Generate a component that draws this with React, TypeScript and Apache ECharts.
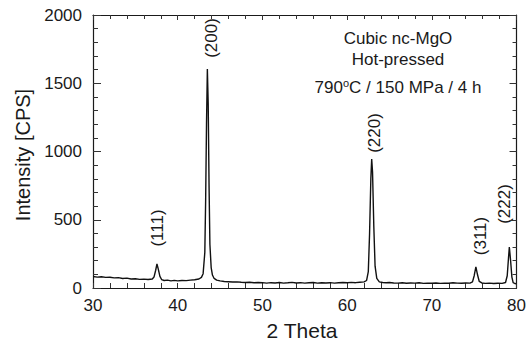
import React, { useEffect, useRef } from "react";
import * as echarts from "echarts";

const twoTheta: number[] = [
  30.0, 30.5, 31.0, 31.5, 32.0, 32.5, 33.0, 33.5, 34.0, 34.5, 35.0, 35.5, 36.0, 36.5,
  37.0, 37.2, 37.4, 37.55, 37.7, 37.9, 38.1, 38.4, 38.8, 39.2, 39.6, 40.0, 40.5, 41.0,
  41.5, 42.0, 42.5, 42.8, 43.0, 43.2, 43.3, 43.4, 43.5, 43.6, 43.7, 43.8, 43.95, 44.1,
  44.3, 44.6, 45.0, 45.5, 46.0, 46.5, 47.0, 47.5, 48.0, 48.5, 49.0, 49.5, 50.0, 50.5,
  51.0, 51.5, 52.0, 52.5, 53.0, 53.5, 54.0, 54.5, 55.0, 55.5, 56.0, 56.5, 57.0, 57.5,
  58.0, 58.5, 59.0, 59.5, 60.0, 60.5, 61.0, 61.5, 62.0, 62.3, 62.5, 62.65, 62.8, 62.9,
  63.0, 63.15, 63.3, 63.5, 63.8, 64.2, 64.6, 65.0, 65.5, 66.0, 66.5, 67.0, 67.5, 68.0,
  68.5, 69.0, 69.5, 70.0, 70.5, 71.0, 71.5, 72.0, 72.5, 73.0, 73.5, 74.0, 74.5, 74.8,
  75.0, 75.2, 75.4, 75.6, 75.9, 76.3, 76.8, 77.3, 77.8, 78.3, 78.7, 78.9, 79.05, 79.15,
  79.3, 79.45, 79.6, 79.8, 80.0,
];
const intensity: number[] = [
  84, 80, 82, 78, 79, 74, 76, 70, 72, 66, 68, 63, 65, 62,
  66, 80, 130, 176, 140, 85, 62, 55, 58, 52, 56, 52, 55, 54,
  58, 60, 66, 78, 105, 260, 650, 1200, 1604, 1350, 750, 320, 150, 95,
  70, 58, 52, 48, 46, 44, 45, 42, 40, 42, 38, 40, 39, 36,
  39, 37, 40, 36, 38, 41, 37, 39, 36, 38, 40, 36, 38, 37,
  39, 36, 38, 40, 38, 41, 39, 42, 45, 55, 120, 400, 800, 945,
  850, 450, 160, 70, 45, 40, 38, 40, 37, 36, 38, 35, 37, 36,
  38, 34, 36, 35, 37, 34, 36, 35, 38, 36, 35, 37, 36, 45,
  90, 154, 95, 48, 37, 34, 36, 33, 35, 34, 40, 90, 220, 300,
  200, 80, 40, 33, 30,
];

const xTicks = { min: 30, max: 80, step: 10 };
const yTicks = { min: 0, max: 2000, step: 500 };

const peakLabels: string[] = ["(111)", "(200)", "(220)", "(311)", "(222)"];
const infoLines: string[] = ["Cubic nc-MgO", "Hot-pressed"];
const conditionText = ["790", "o", "C / 150 MPa / 4 h"];
const xTitle = "2 Theta";
const yTitle = "Intensity [CPS]";

const FONT = "'Liberation Sans', Arial, Helvetica, sans-serif";
const INK = "#1a1a1a";

export default function App() {
  const ref = useRef<HTMLDivElement>(null);
  useEffect(() => {
    if (!ref.current) return;
    const chart = echarts.init(ref.current, undefined, { renderer: "svg" });
    const data = twoTheta.map((t, i) => [t, intensity[i]]);

    const axisCommon = {
      type: "value" as const,
      axisLine: { show: true, onZero: false, lineStyle: { color: INK, width: 1.2 } },
      splitLine: { show: false },
    };
    const tickStyle = { color: "#333", width: 1 };

    const peakPos = [
      [157.5, 228],
      [211, 38],
      [374.5, 133],
      [480.5, 236],
      [504, 204],
    ];

    chart.setOption({
      animation: false,
      backgroundColor: "#ffffff",
      grid: { left: 93, right: 8, top: 15, bottom: 54, containLabel: false },
      xAxis: [
        {
          ...axisCommon,
          position: "bottom",
          min: xTicks.min,
          max: xTicks.max,
          interval: xTicks.step,
          axisTick: { show: true, inside: true, length: 5, lineStyle: tickStyle },
          minorTick: { show: true, splitNumber: 5, length: 5, lineStyle: tickStyle },
          axisLabel: {
            fontSize: 17,
            color: INK,
            fontFamily: FONT,
            margin: 9,
            formatter: (v: number) => String(v),
          },
        },
        {
          ...axisCommon,
          position: "top",
          min: xTicks.min,
          max: xTicks.max,
          interval: xTicks.step,
          axisTick: { show: true, inside: true, length: 5, lineStyle: tickStyle },
          minorTick: { show: true, splitNumber: 5, length: 4, lineStyle: tickStyle },
          axisLabel: { show: false },
        },
      ],
      yAxis: [
        {
          ...axisCommon,
          position: "left",
          min: yTicks.min,
          max: yTicks.max,
          interval: yTicks.step,
          axisTick: { show: true, inside: true, length: 8, lineStyle: tickStyle },
          minorTick: { show: true, splitNumber: 5, length: 5, lineStyle: tickStyle },
          axisLabel: {
            fontSize: 17,
            color: INK,
            fontFamily: FONT,
            margin: 11,
            formatter: (v: number) => String(v),
          },
        },
        {
          ...axisCommon,
          position: "right",
          min: yTicks.min,
          max: yTicks.max,
          interval: yTicks.step,
          axisTick: { show: true, inside: true, length: 7, lineStyle: tickStyle },
          minorTick: { show: true, splitNumber: 5, length: 4, lineStyle: tickStyle },
          axisLabel: { show: false },
        },
      ],
      series: [
        {
          type: "line",
          xAxisIndex: 0,
          yAxisIndex: 0,
          data,
          showSymbol: false,
          symbol: "none",
          lineStyle: { color: "#111", width: 1.4 },
        },
      ],
      graphic: [
        ...peakLabels.map((t, i) => ({
          type: "text",
          x: peakPos[i][0],
          y: peakPos[i][1],
          rotation: Math.PI / 2,
          style: {
            text: t,
            fontSize: 17,
            fontFamily: FONT,
            fill: INK,
            align: "center",
            verticalAlign: "middle",
          },
        })),
        ...infoLines.map((t, i) => ({
          type: "text",
          x: 398,
          y: i === 0 ? 38 : 59,
          style: {
            text: t,
            fontSize: 17,
            fontFamily: FONT,
            fill: INK,
            align: "center",
            verticalAlign: "middle",
          },
        })),
        {
          type: "text",
          x: 398,
          y: 87,
          style: {
            text: `${conditionText[0]}{sup|${conditionText[1]}}${conditionText[2]}`,
            fontSize: 17,
            fontFamily: FONT,
            fill: INK,
            align: "center",
            verticalAlign: "middle",
            rich: {
              sup: {
                fontSize: 11,
                fontFamily: FONT,
                fill: INK,
                verticalAlign: "top",
                padding: [0, 0, 8, 0],
              },
            },
          },
        },
        {
          type: "text",
          x: 302,
          y: 330,
          style: {
            text: xTitle,
            fontSize: 21,
            fontFamily: FONT,
            fill: INK,
            align: "center",
            verticalAlign: "middle",
          },
        },
        {
          type: "text",
          x: 22.5,
          y: 155,
          rotation: Math.PI / 2,
          style: {
            text: yTitle,
            fontSize: 20,
            fontFamily: FONT,
            fill: INK,
            align: "center",
            verticalAlign: "middle",
          },
        },
      ],
    });
    return () => chart.dispose();
  }, []);

  return (
    <div
      ref={ref}
      style={{ position: "fixed", left: 0, top: 0, width: 529, height: 342, background: "#fff" }}
    />
  );
}
